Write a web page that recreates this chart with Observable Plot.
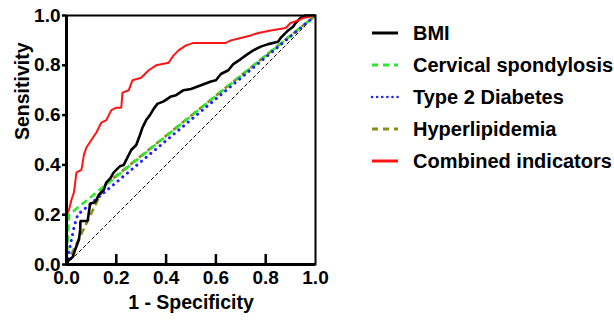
<!DOCTYPE html>
<html>
<head>
<meta charset="utf-8">
<script src="https://cdn.jsdelivr.net/npm/d3@7"></script>
<script src="https://cdn.jsdelivr.net/npm/@observablehq/plot@0.6"></script>
<style>
  html, body { margin: 0; padding: 0; background: #fff; }
  #wrap { position: relative; width: 614px; height: 322px; font-family: "Liberation Sans", Arial, sans-serif; font-weight: bold; }
  #legend { position: absolute; left: 370px; top: 17px; }
  .row { display: flex; align-items: center; height: 32px; font-size: 20px; color: #000; white-space: nowrap; }
  .row svg { margin-right: 14px; }
</style>
</head>
<body>
<div id="wrap"><div id="legend"></div></div>
<script>
// Series names and styles (legend order)
const seriesNames = ["BMI", "Cervical spondylosis", "Type 2 Diabetes", "Hyperlipidemia", "Combined indicators"];
const seriesColors = ["#000000", "#2ee82e", "#1f1fff", "#8c8c1c", "#ff1414"];
const seriesDash = [null, "7,4", "0.1,6", "7,4", null];

// ROC points (1 - Specificity, Sensitivity)
const bmiFpr = [0,0.01,0.025,0.035,0.05,0.055,0.056,0.085,0.095,0.115,0.13,0.15,0.16,0.175,0.19,0.215,0.23,0.245,0.26,0.28,0.295,0.305,0.32,0.335,0.35,0.365,0.39,0.42,0.44,0.47,0.5,0.54,0.58,0.6,0.62,0.65,0.67,0.7,0.72,0.75,0.78,0.81,0.85,0.86,0.875,0.89,0.91,0.92,0.94,0.96,1];
const bmiTpr = [0,0.02,0.03,0.06,0.1,0.14,0.175,0.175,0.245,0.25,0.28,0.3,0.33,0.345,0.37,0.395,0.4,0.43,0.46,0.48,0.52,0.55,0.58,0.6,0.625,0.645,0.655,0.675,0.68,0.7,0.705,0.72,0.735,0.74,0.765,0.78,0.805,0.825,0.84,0.86,0.875,0.885,0.895,0.91,0.925,0.94,0.955,0.97,0.99,1,1];

const cervFpr = [0, 0.01, 1];
const cervTpr = [0, 0.2, 1];

const t2dFpr = [0, 0.01, 0.02, 0.03, 0.045, 1];
const t2dTpr = [0, 0.05, 0.1, 0.15, 0.2, 1];

const hypFpr = [0, 0.155, 1];
const hypTpr = [0, 0.32, 1];

const combFpr = [0,0,0.01,0.02,0.03,0.04,0.06,0.07,0.08,0.1,0.12,0.14,0.16,0.18,0.2,0.22,0.225,0.25,0.265,0.3,0.33,0.36,0.41,0.43,0.45,0.48,0.51,0.64,0.66,0.7,0.74,0.77,0.82,0.88,0.9,0.93,0.95,1];
const combTpr = [0,0.2,0.22,0.26,0.29,0.37,0.38,0.44,0.47,0.5,0.53,0.57,0.58,0.62,0.63,0.63,0.69,0.7,0.74,0.75,0.78,0.8,0.81,0.84,0.86,0.88,0.89,0.89,0.9,0.91,0.92,0.93,0.94,0.95,0.97,0.98,0.99,1];

const refLine = [0, 1];
const axisTicks = [0, 0.2, 0.4, 0.6, 0.8, 1.0];
const innerXTicks = [0.2, 0.4, 0.6, 0.8];

const xs = [bmiFpr, cervFpr, t2dFpr, hypFpr, combFpr];
const ys = [bmiTpr, cervTpr, t2dTpr, hypTpr, combTpr];
const table = xs.map((fx, k) => fx.map((x, i) => ({series: seriesNames[k], x, y: ys[k][i]})));

const drawOrder = [3, 1, 2, 0, 4];
const lineMarks = drawOrder.map(k => Plot.line(table[k], {
  x: "x", y: "y",
  stroke: seriesColors[k],
  strokeWidth: k === 4 ? 2 : (k === 2 ? 3 : 2.6),
  strokeDasharray: seriesDash[k] || undefined,
  strokeLinecap: k === 2 ? "round" : "butt",
  strokeLinejoin: "miter"
}));

const chart = Plot.plot({
  width: 614,
  height: 322,
  marginLeft: 66,
  marginRight: 299,
  marginTop: 15,
  marginBottom: 58,
  style: {fontFamily: '"Liberation Sans", Arial, sans-serif', fontWeight: "bold", fontSize: "19px", color: "#000", background: "transparent"},
  x: {domain: [0, 1]},
  y: {domain: [0, 1]},
  marks: [
    Plot.line(refLine.map(v => ({x: v, y: v})), {x: "x", y: "y", stroke: "#000", strokeWidth: 1, strokeDasharray: "3,3"}),
    ...lineMarks,
    Plot.ruleX(innerXTicks, {y1: 0, y2: 0.04, stroke: "#000", strokeWidth: 2.5}),
    Plot.frame({stroke: "#000", strokeWidth: 2}),
    Plot.ruleX([0], {stroke: "#000", strokeWidth: 3}),
    Plot.ruleY([0], {stroke: "#000", strokeWidth: 3}),
    Plot.axisY(axisTicks, {tickFormat: d3.format(".1f"), tickSize: 4, tickPadding: 2, strokeWidth: 2.5, label: null, fontSize: 19, fontWeight: "bold"}),
    Plot.axisX(axisTicks, {tickFormat: d3.format(".1f"), tickSize: 0, tickPadding: 6, label: null, fontSize: 19, fontWeight: "bold"}),
    Plot.text(["1 - Specificity"], {frameAnchor: "bottom", dy: 44, fontSize: 19.5, fontWeight: "bold", fill: "#000"}),
    Plot.text(["Sensitivity"], {frameAnchor: "left", rotate: -90, dx: -44, fontSize: 19.5, fontWeight: "bold", fill: "#000"})
  ]
});
document.getElementById("wrap").prepend(chart);

// Legend
const legend = document.getElementById("legend");
seriesNames.forEach((name, k) => {
  const row = document.createElement("div");
  row.className = "row";
  const ns = "http://www.w3.org/2000/svg";
  const s = document.createElementNS(ns, "svg");
  s.setAttribute("width", 29); s.setAttribute("height", 10);
  const l = document.createElementNS(ns, "line");
  l.setAttribute("x1", 2); l.setAttribute("x2", 28); l.setAttribute("y1", 5); l.setAttribute("y2", 5);
  l.setAttribute("stroke", seriesColors[k]);
  l.setAttribute("stroke-width", 3);
  if (k === 2) { l.setAttribute("stroke-dasharray", "0.1,5"); l.setAttribute("stroke-linecap", "round"); l.setAttribute("stroke-width", 2.5); }
  else if (seriesDash[k]) l.setAttribute("stroke-dasharray", "6,5");
  s.appendChild(l);
  row.appendChild(s);
  const t = document.createElement("span");
  t.textContent = name;
  row.appendChild(t);
  legend.appendChild(row);
});
</script>
</body>
</html>
